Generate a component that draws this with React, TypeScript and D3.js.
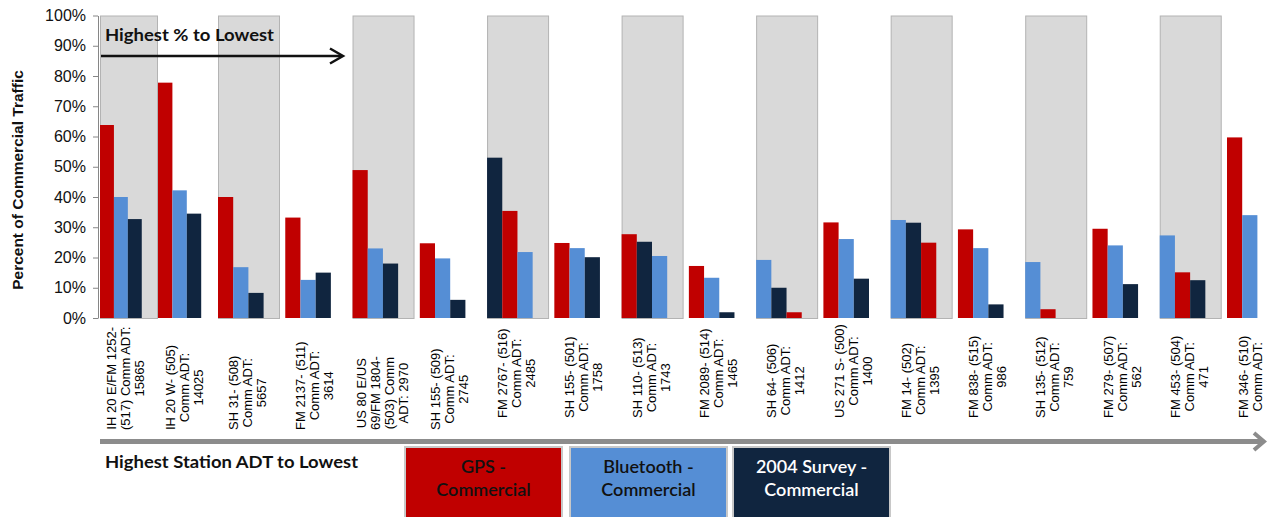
import React, { useEffect, useRef } from "react";
import * as d3 from "d3";

// Count stations, ordered from highest station ADT to lowest
const stations: string[] = [
  "IH 20 E/FM 1252-\n(517) Comm ADT:\n15865",
  "IH 20 W- (505)\nComm ADT:\n14025",
  "SH 31- (508)\nComm ADT:\n5657",
  "FM 2137- (511)\nComm ADT:\n3614",
  "US 80 E/US\n69/FM 1804-\n(503) Comm\nADT: 2970",
  "SH 155- (509)\nComm ADT:\n2745",
  "FM 2767- (516)\nComm ADT:\n2485",
  "SH 155- (501)\nComm ADT:\n1758",
  "SH 110- (513)\nComm ADT:\n1743",
  "FM 2089- (514)\nComm ADT:\n1465",
  "SH 64- (506)\nComm ADT:\n1412",
  "US 271 S- (500)\nComm ADT:\n1400",
  "FM 14- (502)\nComm ADT:\n1395",
  "FM 838- (515)\nComm ADT:\n986",
  "SH 135- (512)\nComm ADT:\n759",
  "FM 279- (507)\nComm ADT:\n562",
  "FM 453- (504)\nComm ADT:\n471",
  "FM 346- (510)\nComm ADT:",
];

// Percent of commercial traffic per station
const gpsCommercial: (number | null)[] = [
  63.8, 77.8, 40.0, 33.2, 48.9, 24.7, 35.4, 24.8, 27.7, 17.2, 1.9, 31.6, 24.9, 29.3, 2.9, 29.5, 15.1, 59.7,
];
const bluetoothCommercial: (number | null)[] = [
  40.0, 42.2, 16.8, 12.6, 23.0, 19.7, 21.8, 23.1, 20.5, 13.3, 19.2, 26.1, 32.4, 23.1, 18.5, 24.0, 27.3, 34.0,
];
const surveyCommercial: (number | null)[] = [
  32.7, 34.5, 8.3, 15.0, 18.0, 6.0, 53.0, 20.1, 25.2, 1.9, 10.0, 13.0, 31.5, 4.5, null, 11.2, 12.5, null,
];

// Bar order inside each cluster (g = GPS, b = Bluetooth, s = 2004 Survey)
const barOrder: string[] = [
  "gbs", "gbs", "gbs", "gbs", "gbs", "gbs", "sgb", "gbs", "gsb",
  "gbs", "bsg", "gbs", "bsg", "gbs", "bgs", "gbs", "bgs", "gbs",
];

const yTicks: number[] = [0, 10, 20, 30, 40, 50, 60, 70, 80, 90, 100];

const legendLabels: string[][] = [
  ["GPS -", "Commercial"],
  ["Bluetooth -", "Commercial"],
  ["2004 Survey -", "Commercial"],
];

const COLORS: Record<string, string> = { g: "#C00000", b: "#558ED5", s: "#10253F" };
const LEGEND_KEYS = ["g", "b", "s"];
const LEGEND_TEXT = ["#111111", "#111111", "#ffffff"];
const ARIAL = "'Liberation Sans', Arial, sans-serif";
const CALIBRI = "Lato, 'Open Sans', sans-serif";
const WIDTH = 1267;
const HEIGHT = 517;

export default function App() {
  const ref = useRef<SVGSVGElement>(null);

  useEffect(() => {
    const svg = d3.select(ref.current);
    svg.selectAll("*").remove();

    const series: Record<string, (number | null)[]> = {
      g: gpsCommercial,
      b: bluetoothCommercial,
      s: surveyCommercial,
    };
    const n = stations.length;

    // cluster start positions; the first two clusters sit a little tighter
    const x = d3.scaleLinear().domain([0, 1, 2, n - 1]).range([100, 158, 218, 1227]);
    const y = d3.scaleLinear().domain([0, 100]).range([318, 15.5]);
    const step = (i: number) => (i < n - 1 ? x(i + 1) - x(i) : x(i) - x(i - 1));

    // alternating grey background panels
    svg
      .append("g")
      .selectAll("rect")
      .data(d3.range(0, n, 2))
      .join("rect")
      .attr("x", (i) => x(i) + 0.5)
      .attr("y", y(100) + 0.5)
      .attr("width", (i) => Math.min(61, step(i) - 1))
      .attr("height", y(0) - y(100))
      .attr("fill", "#D9D9D9")
      .attr("stroke", "#B3B3B3")
      .attr("stroke-width", 1);

    // bars
    const barData: { i: number; k: number; key: string; v: number }[] = [];
    stations.forEach((_, i) => {
      barOrder[i].split("").forEach((key, k) => {
        const v = series[key][i];
        if (v != null) barData.push({ i, k, key, v });
      });
    });
    const bw = (i: number) => Math.min(15.2, step(i) * 0.24);
    svg
      .append("g")
      .selectAll("rect")
      .data(barData)
      .join("rect")
      .attr("x", (d) => x(d.i) + d.k * bw(d.i))
      .attr("y", (d) => y(d.v))
      .attr("width", (d) => bw(d.i))
      .attr("height", (d) => y(0) - y(d.v))
      .attr("fill", (d) => COLORS[d.key]);

    // y axis
    const axis = svg
      .append("g")
      .attr("transform", "translate(98,0)")
      .call(
        d3
          .axisLeft(y)
          .tickValues(yTicks)
          .tickSize(5)
          .tickSizeOuter(0)
          .tickPadding(7)
          .tickFormat((d) => `${d}%`)
      );
    axis.select(".domain").attr("stroke", "#868686");
    axis.selectAll(".tick line").attr("stroke", "#868686");
    axis
      .selectAll(".tick text")
      .attr("font-family", ARIAL)
      .attr("font-size", 16)
      .attr("fill", "#111");

    svg
      .append("text")
      .attr("transform", "translate(23,180) rotate(-90)")
      .attr("text-anchor", "middle")
      .attr("font-family", ARIAL)
      .attr("font-weight", "bold")
      .attr("font-size", 15.5)
      .attr("fill", "#111")
      .text("Percent of Commercial Traffic");

    // station labels, rotated, lines centred on the longest line
    const lab = svg.append("g").attr("font-family", ARIAL).attr("font-size", 13).attr("fill", "#000");
    stations.forEach((s, i) => {
      const lines = s.split("\n");
      const cx = x(i + 0.44);
      const bottom = i < 6 ? 430 : 418;
      let offs = lines.map((_, k) => cx + (k - (lines.length - 1) / 2) * 14);
      // keep the last column inside the picture
      const over = offs[offs.length - 1] - (WIDTH - 10);
      if (over > 0) offs = offs.map((o) => o - over);
      const texts = lines.map((ln, k) =>
        lab
          .append("text")
          .attr("text-anchor", "middle")
          .attr("dy", "0.35em")
          .text(ln)
          .datum(offs[k])
      );
      const L = d3.max(texts, (t) => (t.node() as SVGTextElement).getComputedTextLength()) || 0;
      texts.forEach((t) => {
        const lx = t.datum() as number;
        t.attr("transform", `translate(${lx},${bottom - L / 2}) rotate(-90)`);
      });
    });

    // "Highest % to Lowest" arrow
    svg
      .append("text")
      .attr("x", 105)
      .attr("y", 41)
      .attr("font-family", CALIBRI)
      .attr("font-weight", "bold")
      .attr("font-size", 17)
      .attr("textLength", 169)
      .attr("lengthAdjust", "spacingAndGlyphs")
      .attr("fill", "#111")
      .text("Highest % to Lowest");
    svg
      .append("line")
      .attr("x1", 101)
      .attr("x2", 342)
      .attr("y1", 56)
      .attr("y2", 56)
      .attr("stroke", "#111")
      .attr("stroke-width", 2.5);
    svg
      .append("polyline")
      .attr("points", "330,48.5 343,56 330,63.5")
      .attr("fill", "none")
      .attr("stroke", "#111")
      .attr("stroke-width", 2.5);

    // bottom ADT arrow
    svg
      .append("line")
      .attr("x1", 100)
      .attr("x2", 1262)
      .attr("y1", 441.5)
      .attr("y2", 441.5)
      .attr("stroke", "#8C8C8C")
      .attr("stroke-width", 5);
    svg
      .append("polyline")
      .attr("points", "1254,433 1264,441.5 1254,450")
      .attr("fill", "none")
      .attr("stroke", "#8C8C8C")
      .attr("stroke-width", 4);
    svg
      .append("text")
      .attr("x", 105)
      .attr("y", 468)
      .attr("font-family", CALIBRI)
      .attr("font-weight", "bold")
      .attr("font-size", 17.5)
      .attr("textLength", 253)
      .attr("lengthAdjust", "spacingAndGlyphs")
      .attr("fill", "#111")
      .text("Highest Station ADT to Lowest");

    // legend boxes
    const boxX = [405, 570, 733];
    const leg = svg.append("g");
    LEGEND_KEYS.forEach((key, j) => {
      leg
        .append("rect")
        .attr("x", boxX[j])
        .attr("y", 447)
        .attr("width", 157)
        .attr("height", 80)
        .attr("fill", COLORS[key])
        .attr("stroke", "#C8C8C8")
        .attr("stroke-width", 2);
      legendLabels[j].forEach((ln, k) => {
        leg
          .append("text")
          .attr("x", boxX[j] + 78.5)
          .attr("y", 473 + k * 23)
          .attr("text-anchor", "middle")
          .attr("font-family", CALIBRI)
          .attr("font-weight", 600)
          .attr("font-size", 18)
          .attr("fill", LEGEND_TEXT[j])
          .text(ln);
      });
    });
  }, []);

  return (
    <svg
      ref={ref}
      width={WIDTH}
      height={HEIGHT}
      style={{ position: "absolute", left: 0, top: 0, display: "block", background: "#fff" }}
    />
  );
}
